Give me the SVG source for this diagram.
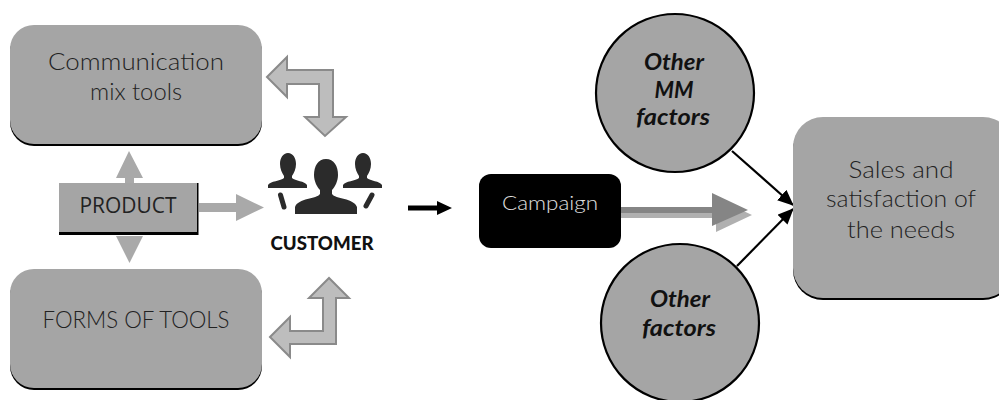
<svg xmlns="http://www.w3.org/2000/svg" width="999" height="400" viewBox="0 0 999 400">
<defs>
<marker id="ah" markerUnits="userSpaceOnUse" markerWidth="16" markerHeight="14" refX="15" refY="7" orient="auto"><path d="M0 0L16 7L0 14Z" fill="#000"/></marker>
</defs>
<style>
.box{fill:#a5a5a5}
.sh{fill:#000}
.t{font-family:"Lato","Liberation Sans",sans-serif;font-weight:300;font-size:24px;fill:#222;text-anchor:middle}
.i{font-family:"Lato","Liberation Sans",sans-serif;font-weight:700;font-style:italic;font-size:22px;fill:#111;text-anchor:middle}
.c{fill:#a5a5a5;stroke:#000;stroke-width:2.2}
.ba{fill:#bdbdbd;stroke:#8a8a8a;stroke-width:2}
.ga{fill:#a9a9a9}
.ic{fill:#2b2b2b}
.ds{fill:none;stroke:#2b2b2b;stroke-width:5;stroke-linecap:round}
</style>
<g id="connectors">
<path class="ga" d="M129 151L143 178H134V183H125V178H116Z"/>
<path class="ga" d="M116 236H143L129.500 263Z"/>
<path class="ga" d="M199 203H236V194L264 207.500L236 221V212H199Z"/>
<path class="ba" d="M267 77L287 57V70H333V117L346 117L325 136L305 117H319V84H287V97Z"/>
<path class="ba" d="M270 337L290 317V331H323V298H309L329 278L349 298H336V344H290V357Z"/>
<path d="M408 205.500H437V201L452 208L437 215V210.500H408Z" fill="#000"/>
<path d="M621 212H716V198L752 215L716 232V218H621Z" fill="#b0b0b0"/>
<path d="M621 207H712V193L748 210L712 226V213H621Z" fill="#858585"/>
<path d="M732 151L793 205" stroke="#000" stroke-width="2.200" fill="none" marker-end="url(#ah)"/>
<path d="M737 266L793 209" stroke="#000" stroke-width="2.200" fill="none" marker-end="url(#ah)"/>
</g>
<g id="communication-mix-tools">
<rect class="sh" x="10" y="28" width="252" height="118" rx="24"/>
<rect class="box" x="10" y="25" width="252" height="119" rx="24"/>
<text class="t" x="136" y="70" textLength="176" lengthAdjust="spacingAndGlyphs">Communication</text>
<text class="t" x="136" y="100" textLength="92" lengthAdjust="spacingAndGlyphs">mix tools</text>
</g>
<g id="product">
<rect class="sh" x="59" y="183" width="139.500" height="52"/>
<rect class="box" x="59" y="183" width="138" height="49"/>
<text x="128" y="213" font-family="'Open Sans','Liberation Sans',sans-serif" font-size="21" fill="#222" text-anchor="middle" textLength="97" lengthAdjust="spacingAndGlyphs">PRODUCT</text>
</g>
<g id="forms-of-tools">
<rect class="sh" x="10" y="272" width="252" height="118" rx="24"/>
<rect class="box" x="10" y="269" width="252" height="119" rx="24"/>
<text class="t" x="136" y="328" textLength="187" lengthAdjust="spacingAndGlyphs">FORMS OF TOOLS</text>
</g>
<g id="customer">
<g class="ic">
<path d="M288 153C283 153 280 158 280 164C280 169 282 173 284 176V178C281 181 270 181 268 185V188H307V185C305 181 295 181 292 178V176C294 173 296 169 296 164C296 158 293 153 288 153Z"/>
<path d="M363 153C358 153 355 158 355 164C355 169 357 173 359 176V178C356 181 345 181 343 185V188H382V185C380 181 370 181 367 178V176C369 173 371 169 371 164C371 158 368 153 363 153Z"/>
<path d="M326 159C318 159 314 166 314 175C314 181 317 187 320 190V194C317 199 298 198 295 207V214H357V207C354 198 335 199 332 194V190C335 187 338 181 338 175C338 166 334 159 326 159Z"/>
</g>
<path class="ds" d="M280.500 195L284 207"/>
<path class="ds" d="M372 195L366 206"/>
<text x="322" y="250" font-family="'Lato','Liberation Sans',sans-serif" font-weight="900" font-size="19" fill="#111" text-anchor="middle" textLength="103" lengthAdjust="spacingAndGlyphs">CUSTOMER</text>
</g>
<g id="campaign">
<rect x="479" y="174" width="142" height="74" rx="12" fill="#000"/>
<text x="550" y="210" font-family="'Lato','Liberation Sans',sans-serif" font-weight="300" font-size="20" fill="#e0e0e0" text-anchor="middle" textLength="96" lengthAdjust="spacingAndGlyphs">Campaign</text>
</g>
<g id="other-mm-factors">
<circle class="c" cx="675" cy="93" r="79"/>
<text class="i" x="674" y="70" textLength="60" lengthAdjust="spacingAndGlyphs">Other</text>
<text class="i" x="674" y="98" textLength="39" lengthAdjust="spacingAndGlyphs">MM</text>
<text class="i" x="673" y="125" textLength="74" lengthAdjust="spacingAndGlyphs">factors</text>
</g>
<g id="other-factors">
<circle class="c" cx="680" cy="323" r="79"/>
<text class="i" x="680" y="307" textLength="60" lengthAdjust="spacingAndGlyphs">Other</text>
<text class="i" x="679" y="336" textLength="74" lengthAdjust="spacingAndGlyphs">factors</text>
</g>
<g id="sales">
<rect class="sh" x="793" y="120" width="220" height="180" rx="30"/>
<rect class="box" x="793" y="117" width="220" height="181" rx="30"/>
<text class="t" x="901" y="178" textLength="105" lengthAdjust="spacingAndGlyphs">Sales and</text>
<text class="t" x="901" y="207" textLength="150" lengthAdjust="spacingAndGlyphs">satisfaction of</text>
<text class="t" x="901" y="238" textLength="108" lengthAdjust="spacingAndGlyphs">the needs</text>
</g>
</svg>
